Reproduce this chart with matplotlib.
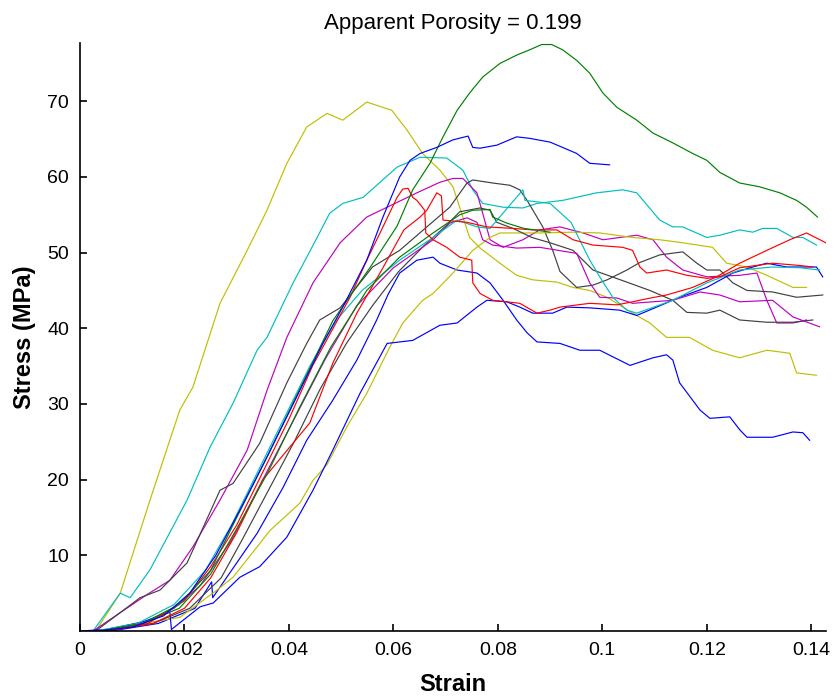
import matplotlib
matplotlib.use("Agg")
import matplotlib.pyplot as plt

plt.rcParams['font.family'] = ['Liberation Sans', 'DejaVu Sans']

# matlab style line colours
blue = (0, 0, 1)
green = (0, 0.5, 0)
red = (1, 0, 0)
cyan = (0, 0.75, 0.75)
magenta = (0.75, 0, 0.75)
yellow = (0.75, 0.75, 0)
black = (0.25, 0.25, 0.25)

# yellow, early peak ~70
y1_strain = [0.003, 0.0077, 0.0134, 0.0191, 0.0216, 0.0268, 0.032, 0.0358, 0.0396, 0.0434, 0.0473, 0.0503, 0.0549,
             0.0597, 0.0626, 0.0656, 0.0689, 0.0714, 0.0733, 0.0746, 0.0766, 0.0804, 0.0836, 0.0867, 0.0913, 0.0944,
             0.0976, 0.1009, 0.1058, 0.1091, 0.1123, 0.1167, 0.1211, 0.1263, 0.1315, 0.1359, 0.1372, 0.141]
y1_stress = [0, 5.0, 17.3, 29.2, 32.2, 43.3, 50.3, 55.6, 61.8, 66.6, 68.4, 67.5, 69.9,
             68.8, 66.2, 63.1, 60.9, 58.7, 54.7, 52.0, 50.6, 48.6, 47.0, 46.4, 46.1, 45.4,
             45.0, 44.1, 42.0, 40.7, 38.8, 38.8, 37.1, 36.1, 37.1, 36.7, 34.1, 33.8]

# yellow, late riser
y2_strain = [0.004, 0.012, 0.0191, 0.0262, 0.0293, 0.0364, 0.0421, 0.0446, 0.0473, 0.0511, 0.0549, 0.0593, 0.0618,
             0.0656, 0.0676, 0.0714, 0.0752, 0.0785, 0.0804, 0.088, 0.0944, 0.0995, 0.1058, 0.111, 0.1154, 0.1211,
             0.1238, 0.1277, 0.1315, 0.1365, 0.1391]
y2_stress = [0, 1.0, 1.8, 5.4, 7.1, 13.3, 16.9, 19.9, 22.0, 27.0, 31.4, 37.5, 40.7,
             43.7, 44.6, 47.3, 50.3, 52.0, 52.6, 52.6, 52.7, 52.6, 52.0, 51.7, 51.3, 50.7,
             48.6, 48.1, 47.0, 45.4, 45.4]

# cyan, peak ~62.5
c1_strain = [0.0025, 0.0077, 0.0096, 0.0134, 0.0205, 0.0249, 0.0293, 0.0339, 0.0358, 0.0408, 0.0454, 0.0478, 0.0503,
             0.0542, 0.0607, 0.0651, 0.0702, 0.0733, 0.0752, 0.0771, 0.081, 0.0848, 0.0875, 0.0924, 0.0989, 0.1039,
             0.1066, 0.111, 0.1135, 0.1154, 0.12, 0.1225, 0.1263, 0.1288, 0.1307, 0.1334, 0.1365, 0.1384, 0.141]
c1_stress = [0, 5.0, 4.4, 8.1, 17.3, 24.3, 30.1, 37.1, 38.8, 46.0, 52.0, 55.2, 56.5,
             57.3, 61.3, 62.6, 62.5, 60.9, 58.3, 56.5, 56.0, 55.9, 56.5, 56.9, 57.9, 58.3,
             57.9, 54.3, 53.4, 53.4, 52.0, 52.3, 53.0, 52.7, 53.2, 53.2, 52.0, 52.0, 51.0]

# cyan, main bundle
c2_strain = [0.003, 0.011, 0.018, 0.024, 0.029, 0.034, 0.039, 0.044, 0.049, 0.054, 0.0612, 0.0676, 0.0722, 0.076,
             0.0785, 0.0848, 0.0852, 0.09, 0.094, 0.0976, 0.0995, 0.102, 0.1047, 0.1066, 0.1135, 0.12, 0.1263,
             0.1326, 0.1378, 0.1416]
c2_stress = [0, 1.0, 3.5, 8.0, 14.0, 21.0, 28.0, 35.0, 41.0, 45.0, 49.0, 52.0, 54.3, 53.4,
             53.2, 58.3, 56.9, 56.5, 54.0, 49.0, 46.8, 44.1, 42.4, 42.0, 43.7, 46.0, 47.7,
             48.1, 48.0, 47.7]

# magenta, early peak ~60
m1_strain = [0.0025, 0.0128, 0.0172, 0.0216, 0.0268, 0.032, 0.0358, 0.0396, 0.0446, 0.0498, 0.0549, 0.0588, 0.0645,
             0.0689, 0.0714, 0.0733, 0.076, 0.0771, 0.0785, 0.081, 0.0848, 0.088, 0.0919, 0.0963, 0.1001, 0.1066,
             0.1097, 0.1123, 0.1154, 0.12, 0.1263, 0.1296, 0.1315, 0.1334, 0.1365, 0.1391]
m1_stress = [0, 4.8, 6.7, 11.1, 17.3, 23.9, 31.8, 38.8, 46.0, 51.3, 54.7, 56.0, 57.9,
             59.3, 59.8, 59.8, 57.9, 55.2, 51.7, 50.7, 51.7, 53.0, 53.4, 52.6, 51.7, 52.3,
             51.7, 49.4, 47.7, 46.8, 47.0, 47.3, 43.7, 40.7, 40.7, 41.1]

# magenta, main bundle
m2_strain = [0.004, 0.012, 0.018, 0.023, 0.029, 0.035, 0.041, 0.047, 0.053, 0.06, 0.0676, 0.0708, 0.0741, 0.076,
             0.0771, 0.079, 0.0836, 0.088, 0.0951, 0.0976, 0.0995, 0.1028, 0.1058, 0.1135, 0.1187, 0.1225, 0.1263,
             0.1326, 0.1365, 0.1416]
m2_stress = [0, 1.0, 3.0, 6.0, 12.0, 20.0, 28.0, 36.0, 43.0, 48.0, 51.7, 53.9, 54.6, 54.0,
             51.7, 51.0, 50.6, 50.7, 49.9, 46.0, 44.1, 44.0, 43.3, 43.7, 44.8, 44.4, 43.5,
             43.7, 41.5, 40.2]

# black, early, peak ~59.6
k1_strain = [0.003, 0.0115, 0.0153, 0.0205, 0.0268, 0.0293, 0.0344, 0.0396, 0.0434, 0.0459, 0.0498, 0.056, 0.0612,
             0.0664, 0.0708, 0.0741, 0.0752, 0.079, 0.0823, 0.0842, 0.0856, 0.0886, 0.0905, 0.0919, 0.0951, 0.0982,
             0.1009, 0.1047, 0.1072, 0.111, 0.1154, 0.1181, 0.12, 0.1225, 0.125, 0.1277, 0.1326, 0.1372, 0.1422]
k1_stress = [0, 4.4, 5.4, 9.0, 18.6, 19.5, 24.8, 32.8, 38.0, 41.1, 42.7, 48.1, 50.3,
             53.4, 56.0, 59.2, 59.6, 59.2, 58.9, 58.3, 56.9, 53.4, 50.3, 47.5, 45.4, 45.7,
             46.4, 47.7, 48.7, 49.7, 50.1, 48.6, 47.7, 47.7, 46.0, 45.0, 44.8, 44.1, 44.4]

# black, main bundle, peak ~56
k2_strain = [0.005, 0.014, 0.021, 0.027, 0.031, 0.036, 0.041, 0.046, 0.051, 0.056, 0.061, 0.066, 0.07, 0.0727,
             0.0766, 0.0785, 0.0798, 0.0829, 0.0865, 0.09, 0.0944, 0.0982, 0.1047, 0.1091, 0.1135, 0.1162, 0.12,
             0.1225, 0.1263, 0.1315, 0.1365, 0.1403]
k2_stress = [0, 1.0, 3.0, 7.0, 12.0, 18.5, 25.0, 32.0, 38.0, 43.0, 47.5, 51.0, 53.5, 55.4,
             55.9, 55.6, 54.0, 53.2, 52.0, 51.3, 50.3, 47.7, 46.1, 45.0, 43.7, 42.1, 42.0,
             42.4, 41.1, 40.8, 40.8, 41.1]

# blue, peak ~65, stops at 0.101
b1_strain = [0.003, 0.01, 0.016, 0.021, 0.026, 0.031, 0.0358, 0.0421, 0.0465, 0.0503, 0.0549, 0.058, 0.0612, 0.0632,
             0.0651, 0.0683, 0.0714, 0.0743, 0.0752, 0.0766, 0.0798, 0.0836, 0.0861, 0.09, 0.0924, 0.0951, 0.0976,
             0.1014]
b1_stress = [0, 0.5, 2.0, 5.0, 10.0, 16.5, 23.0, 31.8, 38.0, 42.8, 49.0, 54.7, 60.0, 62.2,
             63.1, 63.9, 64.9, 65.4, 63.9, 63.8, 64.2, 65.3, 65.1, 64.6, 63.9, 63.1, 61.8,
             61.6]

# blue, peak ~49.5, falls to 25
b2_strain = [0.006, 0.015, 0.022, 0.0252, 0.0254, 0.027, 0.031, 0.0339, 0.0389, 0.0434, 0.0484, 0.053, 0.0568, 0.059,
             0.0612, 0.0645, 0.0676, 0.0689, 0.0722, 0.076, 0.0785, 0.081, 0.0836, 0.0856, 0.0875, 0.0919, 0.0957,
             0.0995, 0.1053, 0.1097, 0.1123, 0.1135, 0.1148, 0.1187, 0.1206, 0.1244, 0.1263, 0.1277, 0.1326, 0.1365,
             0.1384, 0.1397]
b2_stress = [0, 1.0, 3.0, 6.5, 4.4, 6.0, 10.0, 12.9, 19.0, 25.2, 30.5, 35.8, 41.1, 44.5,
             47.3, 49.0, 49.4, 48.6, 47.7, 47.3, 46.0, 43.7, 41.1, 39.4, 38.2, 38.0, 37.1,
             37.1, 35.1, 36.1, 36.5, 35.8, 32.8, 29.2, 28.1, 28.3, 26.6, 25.6, 25.6, 26.3,
             26.2, 25.2]

# blue, late riser
b3_strain = [0.0, 0.005, 0.012, 0.0172, 0.0175, 0.023, 0.0255, 0.0306, 0.0344, 0.0396, 0.0446, 0.0484, 0.0536,
             0.0588, 0.0637, 0.0689, 0.0722, 0.076, 0.0779, 0.0817, 0.0842, 0.0867, 0.0905, 0.0932, 0.0976, 0.1033,
             0.1066, 0.1104, 0.1148, 0.12, 0.125, 0.1288, 0.1315, 0.1353, 0.141, 0.1422]
b3_stress = [0, 0.2, 1.2, 2.5, 0.2, 3.2, 3.7, 7.1, 8.5, 12.4, 18.6, 23.9, 31.4,
             38.0, 38.4, 40.4, 40.7, 42.8, 43.7, 43.5, 42.8, 42.0, 42.0, 42.8, 42.7, 42.4,
             41.7, 42.8, 44.1, 45.4, 47.3, 48.1, 48.6, 48.1, 48.1, 46.8]

# red, peak ~58.5, ends ~51
r1_strain = [0.004, 0.013, 0.02, 0.025, 0.03, 0.035, 0.04, 0.0445, 0.0517, 0.0549, 0.058, 0.0607, 0.0618, 0.0628,
             0.0637, 0.0645, 0.066, 0.0662, 0.0676, 0.0702, 0.0727, 0.075, 0.0752, 0.0766, 0.079, 0.0817, 0.0842,
             0.0875, 0.09, 0.0919, 0.0976, 0.1028, 0.1058, 0.1085, 0.1123, 0.1173, 0.1219, 0.1263, 0.1315, 0.1359,
             0.1391, 0.1428]
r1_stress = [0, 1.0, 4.0, 8.5, 14.0, 21.0, 28.0, 35.0, 44.1, 49.0, 53.4, 57.3, 58.4, 58.5,
             57.3, 56.9, 55.6, 52.6, 51.7, 50.7, 49.4, 49.0, 46.0, 44.6, 43.7, 43.5, 43.3,
             42.0, 42.4, 42.8, 43.3, 43.1, 43.5, 43.9, 44.4, 45.4, 46.8, 48.6, 50.3, 51.7,
             52.6, 51.3]

# red, peak ~58, ends ~48
r2_strain = [0.005, 0.014, 0.02, 0.025, 0.03, 0.035, 0.044, 0.0484, 0.053, 0.058, 0.062, 0.0651, 0.0664, 0.0683,
             0.0692, 0.0695, 0.0741, 0.0779, 0.0829, 0.0867, 0.0913, 0.0944, 0.0982, 0.1039, 0.1058, 0.1072, 0.1085,
             0.1123, 0.1162, 0.12, 0.1225, 0.1263, 0.1326, 0.1378, 0.1403]
r2_stress = [0, 1.0, 3.0, 7.0, 13.0, 20.0, 27.5, 35.4, 42.0, 48.0, 53.0, 54.7, 55.6, 57.9,
             57.5, 54.3, 54.0, 53.4, 53.2, 53.0, 53.0, 51.7, 51.0, 50.7, 50.3, 48.1, 47.3,
             47.7, 47.0, 46.6, 46.8, 48.0, 48.6, 48.3, 48.1]

# green, peak ~77.5
g1_strain = [0.004, 0.012, 0.019, 0.025, 0.03, 0.0358, 0.0421, 0.0484, 0.0555, 0.0607, 0.0637, 0.067, 0.0695, 0.0722,
             0.0746, 0.0771, 0.0804, 0.0836, 0.0861, 0.0884, 0.0903, 0.0924, 0.0951, 0.0976, 0.1001, 0.1028, 0.1066,
             0.1097, 0.1135, 0.1173, 0.12, 0.1225, 0.1263, 0.1301, 0.134, 0.1372, 0.1391, 0.1412]
g1_stress = [0, 1.0, 3.5, 8.0, 15.0, 23.0, 32.0, 41.0, 48.0, 53.5, 58.3, 61.8, 65.3, 68.8,
             71.1, 73.2, 75.0, 76.1, 76.8, 77.5, 77.5, 76.8, 75.4, 73.7, 71.1, 69.2, 67.5,
             65.8, 64.5, 63.1, 62.2, 60.6, 59.2, 58.7, 57.9, 56.9, 56.0, 54.7]

# green, main bundle, stops at 0.09
g2_strain = [0.004, 0.012, 0.019, 0.025, 0.03, 0.036, 0.042, 0.048, 0.0549, 0.0612, 0.0676, 0.0727, 0.0752, 0.0785,
             0.079, 0.0817, 0.085, 0.09]
g2_stress = [0, 1.0, 3.0, 7.5, 13.5, 21.0, 29.5, 37.5, 45.0, 49.4, 52.6, 55.0, 55.6, 55.7,
             54.7, 53.9, 53.2, 52.7]

curves = [
    (y1_strain, y1_stress, yellow),
    (c1_strain, c1_stress, cyan),
    (m1_strain, m1_stress, magenta),
    (k1_strain, k1_stress, black),
    (b2_strain, b2_stress, blue),
    (y2_strain, y2_stress, yellow),
    (b3_strain, b3_stress, blue),
    (k2_strain, k2_stress, black),
    (m2_strain, m2_stress, magenta),
    (c2_strain, c2_stress, cyan),
    (r2_strain, r2_stress, red),
    (g2_strain, g2_stress, green),
    (r1_strain, r1_stress, red),
    (g1_strain, g1_stress, green),
    (b1_strain, b1_stress, blue),
]

fig = plt.figure(figsize=(8.38, 6.98), dpi=100)
ax = fig.add_axes([0.0955, 0.096, 0.890, 0.8424])

for strain, stress, col in curves:
    ax.plot(strain, stress, color=col, linewidth=0.85)

ax.set_xlim(0, 0.1428)
ax.set_ylim(0, 77.7)
ax.set_xticks([0, 0.02, 0.04, 0.06, 0.08, 0.1, 0.12, 0.14])
ax.set_xticklabels(['0', '0.02', '0.04', '0.06', '0.08', '0.1', '0.12', '0.14'])
ax.set_yticks([10, 20, 30, 40, 50, 60, 70])

for side in ['top', 'right']:
    ax.spines[side].set_visible(False)
for side in ['left', 'bottom']:
    ax.spines[side].set_linewidth(1.2)
ax.tick_params(direction='in', length=5, width=1.2, labelsize=14, pad=8)

ax.set_title('Apparent Porosity = 0.199', fontsize=16, pad=10)
ax.set_xlabel('Strain', fontsize=17, fontweight='bold', labelpad=10)
ax.set_ylabel('Stress (MPa)', fontsize=17, fontweight='bold', labelpad=8)

fig.savefig('out.png', dpi=100)
